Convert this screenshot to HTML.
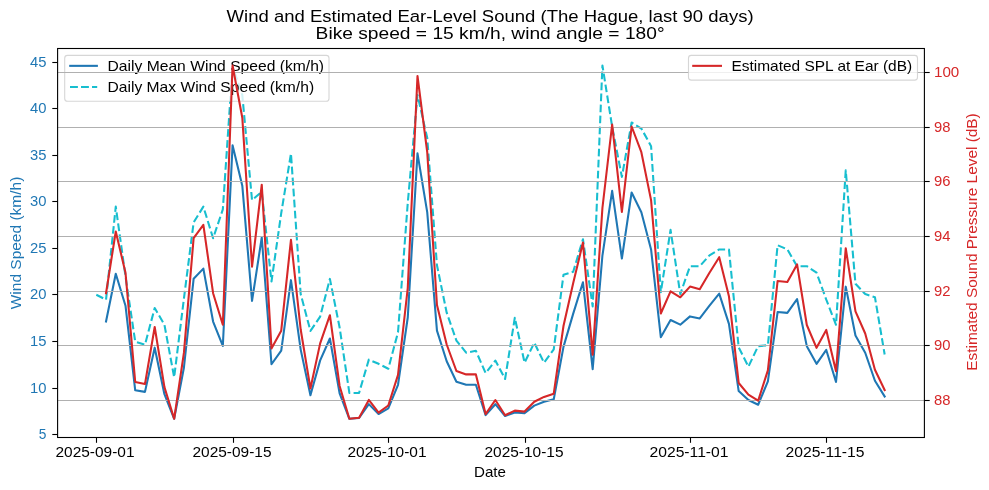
<!DOCTYPE html>
<html lang="en"><head><meta charset="utf-8"><title>Wind and Estimated Ear-Level Sound</title>
<style>
html,body{margin:0;padding:0;background:#fff;}
body{width:989px;height:490px;overflow:hidden;font-family:"Liberation Sans",sans-serif;}
svg{display:block;will-change:transform;}
</style></head><body>
<svg width="989" height="490" viewBox="0 0 989 490" font-family="'Liberation Sans', sans-serif">
<rect width="989" height="490" fill="#fff"/>
<defs><clipPath id="c"><rect x="57.6" y="48.5" width="866.8" height="389.0"/></clipPath></defs>
<g clip-path="url(#c)" fill="none" stroke-linejoin="round">
<polyline points="106.03,321.51 115.77,273.73 125.50,305.71 135.23,390.27 144.97,391.90 154.70,347.68 164.43,394.22 174.16,418.77 183.90,367.74 193.63,278.84 203.36,268.62 213.10,321.51 222.83,345.98 232.56,145.19 242.30,185.69 252.03,300.91 261.76,237.49 271.49,364.25 281.23,350.55 290.96,280.16 300.69,349.62 310.43,395.30 320.16,360.38 329.89,338.54 339.62,393.37 349.36,418.77 359.09,417.99 368.82,404.13 378.56,414.04 388.29,408.47 398.02,384.77 407.76,317.48 417.49,153.32 427.22,212.17 436.96,330.65 446.69,361.23 456.42,381.75 466.15,384.80 475.89,384.80 485.62,415.13 495.35,404.21 505.09,416.06 514.82,412.42 524.55,413.19 534.28,405.60 544.02,401.81 553.75,399.33 563.48,346.91 573.22,313.61 582.95,282.25 592.68,369.21 602.42,255.53 612.15,190.88 621.88,258.55 631.62,192.43 641.35,212.33 651.08,249.42 660.81,337.23 670.55,320.04 680.28,324.68 690.01,316.40 699.75,318.49 709.48,305.71 719.21,293.63 728.94,323.83 738.68,391.05 748.41,400.03 758.14,404.75 767.88,381.29 777.61,312.06 787.34,312.84 797.08,299.21 806.81,346.13 816.54,363.79 826.27,349.93 836.01,381.99 845.74,286.66 855.47,335.52 865.21,352.72 874.94,380.75 884.67,396.47" stroke="#1f77b4" stroke-width="2.08" stroke-linecap="square"/>
<polyline points="96.30,294.72 106.03,299.65 115.77,206.65 125.50,276.40 135.23,341.69 144.97,344.75 154.70,308.02 164.43,324.76 174.16,377.31 183.90,298.72 193.63,222.46 203.36,206.65 213.10,238.27 222.83,209.44 232.56,66.22 242.30,95.05 252.03,200.14 261.76,191.77 271.49,281.51 281.23,213.16 290.96,153.64 300.69,294.07 310.43,330.90 320.16,316.58 329.89,278.91 339.62,327.55 349.36,392.93 359.09,392.93 368.82,359.63 378.56,363.82 388.29,368.75 398.02,332.20 407.76,202.93 417.49,95.05 427.22,137.83 436.96,265.24 446.69,312.67 456.42,340.57 466.15,352.66 475.89,350.80 485.62,373.12 495.35,360.56 505.09,378.98 514.82,317.69 524.55,362.70 534.28,342.71 544.02,362.70 553.75,349.40 563.48,274.82 573.22,271.75 582.95,239.20 592.68,306.44 602.42,65.48 612.15,126.67 621.88,176.89 631.62,122.49 641.35,128.53 651.08,146.20 660.81,292.21 670.55,229.90 680.28,294.07 690.01,266.17 699.75,266.17 709.48,255.38 719.21,249.43 728.94,249.43 738.68,347.36 748.41,366.61 758.14,346.15 767.88,345.22 777.61,245.24 787.34,249.43 797.08,266.17 806.81,266.17 816.54,272.68 826.27,299.65 836.01,324.76 845.74,170.38 855.47,283.84 865.21,294.07 874.94,297.23 884.67,354.52" stroke="#17becf" stroke-width="2.08" stroke-dasharray="7.7 3.33"/>
</g>
<rect x="64.7" y="55.4" width="264.3" height="45.800000000000004" rx="2.8" fill="#fff" fill-opacity="0.8" stroke="#ccc" stroke-opacity="0.8" stroke-width="1.1"/>
<line x1="69.2" y1="65.85" x2="97.9" y2="65.85" stroke="#1f77b4" stroke-width="2.08"/>
<line x1="70" y1="87" x2="97.2" y2="87" stroke="#17becf" stroke-width="2.08" stroke-dasharray="7.9 3.1"/>
<text x="107.50" y="71.00" font-size="14.1" fill="#000" textLength="216.60" lengthAdjust="spacingAndGlyphs">Daily Mean Wind Speed (km/h)</text>
<text x="107.50" y="92.00" font-size="14.1" fill="#000" textLength="206.60" lengthAdjust="spacingAndGlyphs">Daily Max Wind Speed (km/h)</text>
<g stroke="#b0b0b0" stroke-width="1.1">
<line x1="57.6" y1="400.5" x2="924.4" y2="400.5"/>
<line x1="57.6" y1="345.5" x2="924.4" y2="345.5"/>
<line x1="57.6" y1="291.5" x2="924.4" y2="291.5"/>
<line x1="57.6" y1="236.5" x2="924.4" y2="236.5"/>
<line x1="57.6" y1="181.5" x2="924.4" y2="181.5"/>
<line x1="57.6" y1="127.5" x2="924.4" y2="127.5"/>
<line x1="57.6" y1="72.5" x2="924.4" y2="72.5"/>
</g>
<g clip-path="url(#c)" fill="none" stroke-linejoin="round">
<polyline points="106.03,293.20 115.77,231.50 125.50,272.80 135.23,382.00 144.97,384.10 154.70,327.00 164.43,387.10 174.16,418.80 183.90,352.90 193.63,238.10 203.36,224.90 213.10,293.20 222.83,324.80 232.56,65.50 242.30,117.80 252.03,266.60 261.76,184.70 271.49,348.40 281.23,330.70 290.96,239.80 300.69,329.50 310.43,388.50 320.16,343.40 329.89,315.20 339.62,386.00 349.36,418.80 359.09,417.80 368.82,399.90 378.56,412.70 388.29,405.50 398.02,374.90 407.76,288.00 417.49,76.00 427.22,152.00 436.96,305.00 446.69,344.50 456.42,371.00 466.15,374.40 475.89,374.40 485.62,414.10 495.35,400.00 505.09,415.30 514.82,410.60 524.55,411.60 534.28,401.80 544.02,396.90 553.75,393.70 563.48,326.00 573.22,283.00 582.95,242.50 592.68,354.80 602.42,208.00 612.15,124.50 621.88,211.90 631.62,126.50 641.35,152.20 651.08,200.10 660.81,313.50 670.55,291.30 680.28,297.30 690.01,286.60 699.75,289.30 709.48,272.80 719.21,257.20 728.94,296.20 738.68,383.00 748.41,394.60 758.14,400.70 767.88,370.40 777.61,281.00 787.34,282.00 797.08,264.40 806.81,325.00 816.54,347.80 826.27,329.90 836.01,371.30 845.74,248.20 855.47,311.30 865.21,333.50 874.94,369.70 884.67,390.00" stroke="#d62728" stroke-width="2.08" stroke-linecap="square"/>
</g>
<rect x="688.5" y="55.4" width="229.0" height="24.750000000000007" rx="2.8" fill="#fff" fill-opacity="0.8" stroke="#ccc" stroke-opacity="0.8" stroke-width="1.1"/>
<line x1="692.2" y1="65.85" x2="722" y2="65.85" stroke="#d62728" stroke-width="2.08"/>
<text x="731.50" y="71.00" font-size="14.1" fill="#000" textLength="180.60" lengthAdjust="spacingAndGlyphs">Estimated SPL at Ear (dB)</text>
<rect x="57.6" y="48.5" width="866.8" height="389.0" fill="none" stroke="#000" stroke-width="1.1"/>
<g stroke="#000" stroke-width="1.1">
<line x1="52.300000000000004" y1="434.5" x2="57.6" y2="434.5"/>
<line x1="52.300000000000004" y1="388.5" x2="57.6" y2="388.5"/>
<line x1="52.300000000000004" y1="341.5" x2="57.6" y2="341.5"/>
<line x1="52.300000000000004" y1="294.5" x2="57.6" y2="294.5"/>
<line x1="52.300000000000004" y1="248.5" x2="57.6" y2="248.5"/>
<line x1="52.300000000000004" y1="201.5" x2="57.6" y2="201.5"/>
<line x1="52.300000000000004" y1="155.5" x2="57.6" y2="155.5"/>
<line x1="52.300000000000004" y1="108.5" x2="57.6" y2="108.5"/>
<line x1="52.300000000000004" y1="62.5" x2="57.6" y2="62.5"/>
<line x1="924.4" y1="400.5" x2="929.6999999999999" y2="400.5"/>
<line x1="924.4" y1="345.5" x2="929.6999999999999" y2="345.5"/>
<line x1="924.4" y1="291.5" x2="929.6999999999999" y2="291.5"/>
<line x1="924.4" y1="236.5" x2="929.6999999999999" y2="236.5"/>
<line x1="924.4" y1="181.5" x2="929.6999999999999" y2="181.5"/>
<line x1="924.4" y1="127.5" x2="929.6999999999999" y2="127.5"/>
<line x1="924.4" y1="72.5" x2="929.6999999999999" y2="72.5"/>
<line x1="96.5" y1="437.5" x2="96.5" y2="442.8"/>
<line x1="233.5" y1="437.5" x2="233.5" y2="442.8"/>
<line x1="388.5" y1="437.5" x2="388.5" y2="442.8"/>
<line x1="525.5" y1="437.5" x2="525.5" y2="442.8"/>
<line x1="690.5" y1="437.5" x2="690.5" y2="442.8"/>
<line x1="826.5" y1="437.5" x2="826.5" y2="442.8"/>
</g>
<text x="46.50" y="438.80" font-size="14.1" fill="#1f77b4" text-anchor="end" textLength="7.64" lengthAdjust="spacingAndGlyphs">5</text>
<text x="46.50" y="392.80" font-size="14.1" fill="#1f77b4" text-anchor="end" textLength="16.47" lengthAdjust="spacingAndGlyphs">10</text>
<text x="46.50" y="345.80" font-size="14.1" fill="#1f77b4" text-anchor="end" textLength="16.47" lengthAdjust="spacingAndGlyphs">15</text>
<text x="46.50" y="298.80" font-size="14.1" fill="#1f77b4" text-anchor="end" textLength="16.47" lengthAdjust="spacingAndGlyphs">20</text>
<text x="46.50" y="252.80" font-size="14.1" fill="#1f77b4" text-anchor="end" textLength="16.47" lengthAdjust="spacingAndGlyphs">25</text>
<text x="46.50" y="205.80" font-size="14.1" fill="#1f77b4" text-anchor="end" textLength="16.47" lengthAdjust="spacingAndGlyphs">30</text>
<text x="46.50" y="159.80" font-size="14.1" fill="#1f77b4" text-anchor="end" textLength="16.47" lengthAdjust="spacingAndGlyphs">35</text>
<text x="46.50" y="112.80" font-size="14.1" fill="#1f77b4" text-anchor="end" textLength="16.47" lengthAdjust="spacingAndGlyphs">40</text>
<text x="46.50" y="66.80" font-size="14.1" fill="#1f77b4" text-anchor="end" textLength="16.47" lengthAdjust="spacingAndGlyphs">45</text>
<text x="934.00" y="404.80" font-size="14.1" fill="#d62728" textLength="16.47" lengthAdjust="spacingAndGlyphs">88</text>
<text x="934.00" y="349.80" font-size="14.1" fill="#d62728" textLength="16.47" lengthAdjust="spacingAndGlyphs">90</text>
<text x="934.00" y="295.80" font-size="14.1" fill="#d62728" textLength="16.47" lengthAdjust="spacingAndGlyphs">92</text>
<text x="934.00" y="240.80" font-size="14.1" fill="#d62728" textLength="16.47" lengthAdjust="spacingAndGlyphs">94</text>
<text x="934.00" y="185.80" font-size="14.1" fill="#d62728" textLength="16.47" lengthAdjust="spacingAndGlyphs">96</text>
<text x="934.00" y="131.80" font-size="14.1" fill="#d62728" textLength="16.47" lengthAdjust="spacingAndGlyphs">98</text>
<text x="934.00" y="76.80" font-size="14.1" fill="#d62728" textLength="25.31" lengthAdjust="spacingAndGlyphs">100</text>
<text x="95.00" y="457.00" font-size="14.1" fill="#000" text-anchor="middle" textLength="79.00" lengthAdjust="spacingAndGlyphs">2025-09-01</text>
<text x="232.00" y="457.00" font-size="14.1" fill="#000" text-anchor="middle" textLength="79.00" lengthAdjust="spacingAndGlyphs">2025-09-15</text>
<text x="387.00" y="457.00" font-size="14.1" fill="#000" text-anchor="middle" textLength="79.00" lengthAdjust="spacingAndGlyphs">2025-10-01</text>
<text x="524.00" y="457.00" font-size="14.1" fill="#000" text-anchor="middle" textLength="79.00" lengthAdjust="spacingAndGlyphs">2025-10-15</text>
<text x="689.00" y="457.00" font-size="14.1" fill="#000" text-anchor="middle" textLength="79.00" lengthAdjust="spacingAndGlyphs">2025-11-01</text>
<text x="825.00" y="457.00" font-size="14.1" fill="#000" text-anchor="middle" textLength="79.00" lengthAdjust="spacingAndGlyphs">2025-11-15</text>
<text x="490.00" y="476.90" font-size="14.1" fill="#000" text-anchor="middle" textLength="32.00" lengthAdjust="spacingAndGlyphs">Date</text>
<text x="20.50" y="243.00" font-size="14.1" fill="#1f77b4" text-anchor="middle" textLength="132.60" lengthAdjust="spacingAndGlyphs" transform="rotate(-90 20.50 243.00)">Wind Speed (km/h)</text>
<text x="976.50" y="242.00" font-size="14.1" fill="#d62728" text-anchor="middle" textLength="257.50" lengthAdjust="spacingAndGlyphs" transform="rotate(-90 976.50 242.00)">Estimated Sound Pressure Level (dB)</text>
<text x="490.10" y="21.80" font-size="16.9" fill="#000" text-anchor="middle" textLength="527.00" lengthAdjust="spacingAndGlyphs">Wind and Estimated Ear-Level Sound (The Hague, last 90 days)</text>
<text x="490.10" y="38.80" font-size="16.9" fill="#000" text-anchor="middle" textLength="349.00" lengthAdjust="spacingAndGlyphs">Bike speed = 15 km/h, wind angle = 180°</text>
</svg>
</body></html>
